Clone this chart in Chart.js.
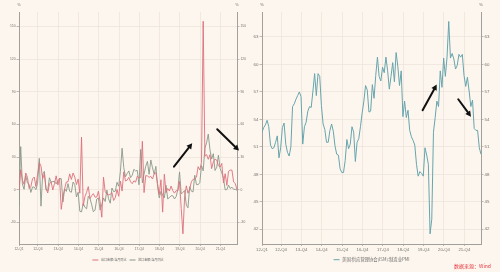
<!DOCTYPE html>
<html>
<head>
<meta charset="utf-8">
<script src="https://cdn.jsdelivr.net/npm/chart.js@4.4.0/dist/chart.umd.min.js"></script>
<style>
  html, body { margin: 0; padding: 0; background: #fdf6ee; }
  body { width: 500px; height: 272px; position: relative; overflow: hidden; }
  canvas { position: absolute; top: 0; }
  #c-trade { left: 0; }
  #c-pmi { left: 250px; }
  #src { position: absolute; left: 454px; top: 262px; font: 5px "Noto Sans CJK SC"; color: #e5333b; white-space: nowrap; }
</style>
</head>
<body>
<canvas id="c-trade" width="250" height="272"></canvas>
<canvas id="c-pmi" width="250" height="272"></canvas>
<div id="src">数据来源：Wind</div>
<script>
// ─── Data (monthly, 2012-01 … 2022-10) ─────────────────────────
const tickIdx = [0, 11.2, 23.2, 35.2, 47.2, 59.2, 71.2, 83.2, 95.2, 107.2, 119.2];
const tickLabels = ['12-Q1', '12-Q4', '13-Q4', '14-Q4', '15-Q4', '16-Q4', '17-Q4', '18-Q4', '19-Q4', '20-Q4', '21-Q4'];

const tradeLabels = ['出口金额:当月同比', '进口金额:当月同比'];
const exportYoY = [
  -0.5, 18.4, 8.9, 4.9, 15.3, 11.3, 1.0, 2.7, 9.9, 11.6, 2.9, 14.1,
  25.0, 21.8, 10.0, 14.7, 1.0, -3.1, 5.1, 7.2, -0.3, 5.6, 12.7, 4.3,
  10.6, -18.1, -6.6, 0.9, 7.0, 7.2, 14.5, 9.4, 15.3, 11.6, 4.7, 9.7,
  -3.3, 48.3, -15.0, -6.4, -2.5, 2.8, -8.3, -5.5, -3.7, -6.9, -6.8, -1.4,
  -11.2, -25.4, 11.5, -1.8, -4.1, -4.8, -4.4, -2.8, -10.0, -7.3, 0.1, -6.1,
  7.9, -1.3, 16.4, 8.0, 8.7, 11.3, 7.2, 5.5, 8.1, 6.9, 12.3, 10.9,
  11.1, 44.5, -2.7, 12.9, 12.6, 11.3, 12.2, 9.8, 14.5, 15.6, 5.4, -4.4,
  9.1, -20.7, 14.2, -2.7, 1.1, -1.3, 3.3, -1.0, -3.2, -0.9, -1.1, 7.6,
  -17.2, -40.6, -6.6, 3.5, -3.3, 0.5, 7.2, 9.5, 9.9, 11.4, 21.1, 18.1,
  24.9, 154.9, 30.6, 32.3, 27.9, 32.2, 19.3, 25.6, 28.1, 27.1, 22.0, 20.9,
  24.1, 6.2, 14.7, 3.9, 16.9, 17.9, 18.0, 7.1, 5.7, -0.3
];
const importYoY = [
  -15.3, 39.6, 5.3, 0.3, 12.7, 6.3, 4.7, -2.6, 2.4, 2.4, 0.0, 6.0,
  28.8, -15.2, 14.1, 16.8, -0.3, -0.7, 10.9, 7.0, 7.4, 7.6, 5.3, 8.3,
  10.0, 10.1, -11.3, 0.8, -1.6, 5.5, -1.6, -2.4, 7.0, 4.6, -6.7, -2.4,
  -19.9, -20.5, -12.7, -16.2, -17.6, -6.1, -8.1, -13.8, -20.4, -18.8, -8.7, -7.6,
  -18.8, -13.8, -7.6, -10.9, -0.4, -8.4, -12.5, 1.5, -1.9, -1.4, 6.7, 3.1,
  16.7, 38.1, 20.3, 11.9, 14.8, 17.2, 11.0, 13.3, 18.7, 17.2, 17.7, 4.5,
  36.9, 6.3, 14.4, 21.5, 26.0, 14.1, 27.3, 20.0, 14.3, 21.4, 3.0, -7.6,
  -1.5, -5.2, -7.6, 4.0, -8.5, -7.3, -5.6, -5.6, -8.5, -6.4, 0.3, 16.3,
  -4.0, -2.4, -0.9, -14.2, -16.7, 2.7, -1.4, -2.1, 13.2, 4.7, 4.5, 6.5,
  22.2, 17.3, 38.1, 43.1, 51.1, 36.7, 28.1, 33.1, 17.6, 20.6, 31.7, 19.5,
  15.5, 10.4, -0.1, 0.0, 4.1, 1.0, 2.3, 0.3, 0.3, -0.7
];
const tradeTicks = [-30, 0, 30, 60, 90, 120, 150];

const pmiLabel = '美国:供应管理协会(ISM):制造业PMI';
const ismPmi = [
  52.6, 53.1, 53.4, 53.9, 53.2, 51.2, 50.8, 50.9, 51.5, 52.2, 49.8, 50.9,
  53.1, 53.6, 51.3, 50.4, 50.0, 51.0, 55.4, 55.7, 56.2, 56.6, 57.0, 56.5,
  51.3, 53.2, 53.7, 54.9, 55.4, 55.3, 57.1, 59.0, 56.6, 59.0, 58.7, 55.5,
  53.5, 52.9, 51.5, 51.5, 52.8, 53.5, 52.7, 51.1, 50.2, 50.1, 48.6, 48.2,
  48.2, 49.5, 51.8, 50.8, 51.3, 53.2, 52.6, 49.4, 51.5, 51.9, 53.2, 54.7,
  56.0, 57.7, 57.2, 54.8, 54.9, 57.8, 56.3, 58.8, 60.8, 58.7, 58.2, 59.7,
  59.1, 60.8, 59.3, 57.3, 58.7, 60.2, 58.1, 61.3, 59.8, 57.7, 59.3, 54.3,
  56.0, 54.2, 55.0, 52.8, 52.1, 51.7, 51.2, 49.1, 47.8, 48.3, 48.1, 47.8,
  50.9, 50.1, 49.1, 41.5, 43.1, 52.6, 54.2, 56.0, 55.4, 59.3, 57.5, 60.7,
  58.7, 60.8, 64.7, 60.7, 61.2, 60.6, 59.5, 59.9, 61.1, 60.8, 61.1, 58.8,
  57.6, 58.6, 57.1, 55.4, 56.1, 53.0, 52.8, 52.8, 50.9, 50.2
];
const pmiTicks = [42, 45, 48, 51, 54, 57, 60, 63];

// hand-drawn arrows, in data units [x1, y1, x2, y2]
const tradeArrows = [[91.7, 21.2, 102.5, 42.7], [117.3, 55.6, 130.2, 35.9]];
const pmiArrows = [[94.6, 55.0, 102.9, 57.8], [115.6, 56.2, 123.1, 54.3]];

// ─── Styles ────────────────────────────────────────────────────
const gridColor = '#ebe3d8';
const axisColor = '#a3a09c';
const tickColor = '#75736f';
const latinFont = '"Liberation Sans", Arial, sans-serif';
const cjkFont = '"Noto Sans CJK SC", sans-serif';

const toPoints = arr => arr.map((v, i) => ({ x: i, y: v }));

// legend line + text centred under the plot, unit "%" on both axes, arrows
const decorPlugin = {
    id: 'decor',
    afterDraw(chart, args, opts) {
        const { ctx, chartArea: a, scales } = chart;
        ctx.save();
        // unit marks
        ctx.fillStyle = tickColor;
        ctx.font = opts.unitSize + 'px ' + latinFont;
        ctx.textAlign = 'center';
        ctx.textBaseline = 'middle';
        ctx.fillText('%', a.left, opts.unitY);
        ctx.fillText('%', a.right, opts.unitY);

        // legend
        ctx.font = opts.legendSize + 'px ' + cjkFont;
        const items = chart.data.datasets.map(d => ({ label: d.label, color: d.borderColor, w: ctx.measureText(d.label).width }));
        const lineW = opts.legendLine, gap = opts.legendGap, itemGap = opts.legendItemGap;
        const total = items.reduce((s, it) => s + lineW + gap + it.w, 0) + itemGap * (items.length - 1);
        let x = (a.left + a.right) / 2 - total / 2;
        const y = opts.legendY;
        ctx.textAlign = 'left';
        items.forEach(it => {
            ctx.strokeStyle = it.color;
            ctx.lineWidth = 1;
            ctx.beginPath();
            ctx.moveTo(x, y);
            ctx.lineTo(x + lineW, y);
            ctx.stroke();
            x += lineW + gap;
            ctx.fillStyle = '#6f6d6a';
            ctx.fillText(it.label, x, y);
            x += it.w + itemGap;
        });

        // arrows
        ctx.strokeStyle = '#111';
        ctx.fillStyle = '#111';
        ctx.lineWidth = 2;
        ctx.lineCap = 'round';
        (opts.arrows || []).forEach(([x1, y1, x2, y2]) => {
            const px1 = scales.x.getPixelForValue(x1), py1 = scales.y.getPixelForValue(y1);
            const px2 = scales.x.getPixelForValue(x2), py2 = scales.y.getPixelForValue(y2);
            const ang = Math.atan2(py2 - py1, px2 - px1);
            const head = 5.5, half = 3;
            const bx = px2 - head * Math.cos(ang), by = py2 - head * Math.sin(ang);
            ctx.beginPath();
            ctx.moveTo(px1, py1);
            ctx.lineTo(bx, by);
            ctx.stroke();
            ctx.beginPath();
            ctx.moveTo(px2, py2);
            ctx.lineTo(bx + half * Math.sin(ang), by - half * Math.cos(ang));
            ctx.lineTo(bx - half * Math.sin(ang), by + half * Math.cos(ang));
            ctx.closePath();
            ctx.fill();
        });
        ctx.restore();
    }
};

function xScale(fontSize) {
    return {
        type: 'linear',
        min: 0,
        max: ismPmi.length - 1,
        afterBuildTicks: s => { s.ticks = tickIdx.map(v => ({ value: v })); },
        afterFit: s => { s.height = 12; },
        border: { color: axisColor, width: 1 },
        grid: { color: gridColor, lineWidth: 0.7, tickLength: 2, tickColor: axisColor },
        ticks: {
            color: tickColor,
            font: { size: fontSize, family: latinFont },
            padding: 1.5,
            maxRotation: 0,
            autoSkip: false,
            callback: (v, i) => tickLabels[i]
        }
    };
}

function yScale(position, min, max, ticks, width, fontSize) {
    return {
        type: 'linear',
        position: position,
        min: min,
        max: max,
        afterBuildTicks: s => { s.ticks = ticks.map(v => ({ value: v })); },
        afterFit: s => { s.width = width; },
        border: { color: axisColor, width: 1 },
        grid: {
            color: gridColor,
            lineWidth: 0.7,
            tickLength: 2.5,
            tickColor: axisColor,
            drawOnChartArea: position === 'left'
        },
        ticks: { color: tickColor, font: { size: fontSize, family: latinFont }, padding: 1 }
    };
}

// ─── Left: China exports / imports YoY ────────────────────────
new Chart(document.getElementById('c-trade'), {
    type: 'line',
    data: {
        datasets: [
            { label: tradeLabels[0], data: toPoints(exportYoY), borderColor: '#dc6f7b', borderWidth: 0.9, pointRadius: 0, tension: 0 },
            { label: tradeLabels[1], data: toPoints(importYoY), borderColor: '#899788', borderWidth: 0.9, pointRadius: 0, tension: 0 }
        ]
    },
    options: {
        responsive: false,
        animation: false,
        events: [],
        layout: { padding: { top: 12, bottom: 16, left: 0, right: 0 } },
        plugins: {
            legend: { display: false },
            tooltip: { enabled: false },
            decor: { unitSize: 3.8, unitY: 5, legendSize: 3.1, legendY: 260, legendLine: 6, legendGap: 2.5, legendItemGap: 3, arrows: tradeArrows }
        },
        scales: {
            x: xScale(3.3),
            y: yScale('left', -50, 163.4, tradeTicks, 19, 3.3),
            y2: yScale('right', -50, 163.4, tradeTicks, 13, 3.3)
        }
    },
    plugins: [decorPlugin]
});

// ─── Right: US ISM manufacturing PMI ──────────────────────────
new Chart(document.getElementById('c-pmi'), {
    type: 'line',
    data: {
        datasets: [
            { label: pmiLabel, data: toPoints(ismPmi), borderColor: '#67a4ad', borderWidth: 1, pointRadius: 0, tension: 0 }
        ]
    },
    options: {
        responsive: false,
        animation: false,
        events: [],
        layout: { padding: { top: 12, bottom: 16, left: 0, right: 0 } },
        plugins: {
            legend: { display: false },
            tooltip: { enabled: false },
            decor: { unitSize: 4.3, unitY: 5, legendSize: 4.3, legendY: 259.7, legendLine: 6, legendGap: 2.5, legendItemGap: 4, arrows: pmiArrows }
        },
        scales: {
            x: xScale(4.3),
            y: yScale('left', 40.39, 65.73, pmiTicks, 12, 4.4),
            y2: yScale('right', 40.39, 65.73, pmiTicks, 19, 4.4)
        }
    },
    plugins: [decorPlugin]
});
</script>
</body>
</html>
